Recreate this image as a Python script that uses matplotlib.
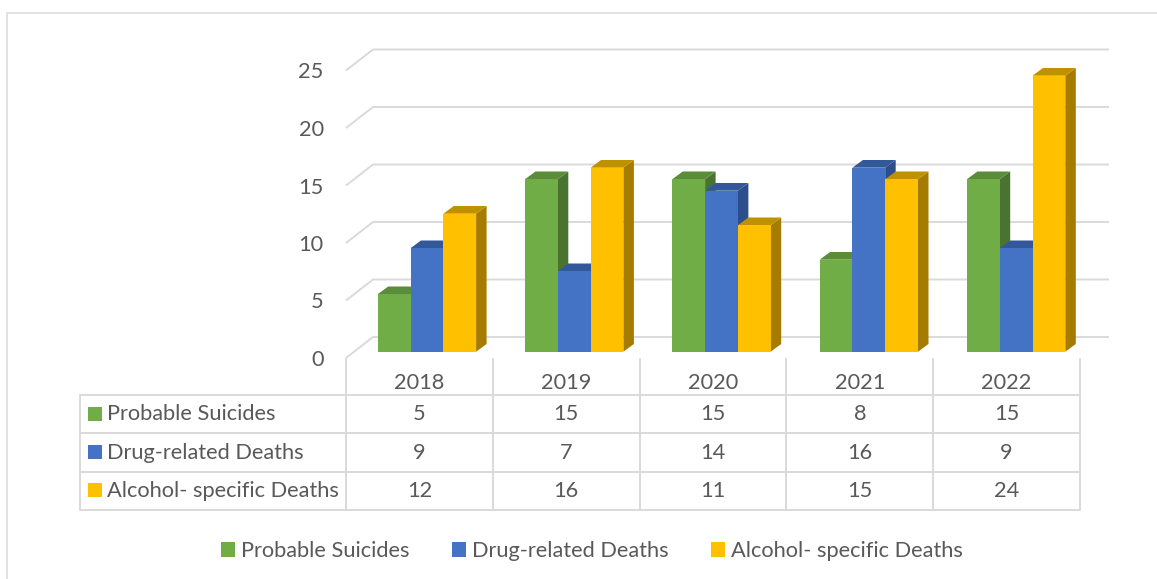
"""Clustered 3D-look column chart with a data table below, Excel style."""
import matplotlib; matplotlib.use("Agg")
import matplotlib.pyplot as plt
from matplotlib.patches import Polygon, Rectangle, Patch
from matplotlib.lines import Line2D
from matplotlib.transforms import Affine2D

years = ["2018", "2019", "2020", "2021", "2022"]
series_names = ["Probable Suicides", "Drug-related Deaths", "Alcohol- specific Deaths"]
suicides = [5, 15, 15, 8, 15]
drugs = [9, 7, 14, 16, 9]
alcohol = [12, 16, 11, 15, 24]
y_ticks = [0, 5, 10, 15, 20, 25]

W, H = 1157, 579
GREY = "#DADADA"
TXT = "#595959"
FS = 15.7
plt.rcParams["font.family"] = ["Lato", "DejaVu Sans"]

front = ["#70AD47", "#4472C4", "#FFC000"]
top = ["#5B8C3A", "#335899", "#BF9000"]
side = ["#4A7230", "#2C4F8C", "#A67C00"]

fig = plt.figure(figsize=(W / 100, H / 100), dpi=100)
# axes: x in categories, y in values
L, R, Y0, Y25 = 346, 1080, 358, 70.5
ax = fig.add_axes([L / W, 1 - Y0 / H, (R - L) / W, (Y0 - Y25) / H])
ax.set_xlim(0, 5); ax.set_ylim(0, 25)
ax.patch.set_visible(False)
for s in ax.spines.values():
    s.set_visible(False)
px_x = 5 / (R - L)
px_y = 25 / (Y0 - Y25)

# outer chart border (pixel coords, y down)
pix = Affine2D().scale(1, -1).translate(0, H)
fig.add_artist(Line2D([7, 7, W], [H, 13, 13], color=GREY, lw=1.1, transform=pix))

# back wall gridlines with the diagonal on the side wall
for v in y_ticks:
    ax.plot([0, 27 * px_x, 763 * px_x], [v, v + 21 * px_y, v + 21 * px_y],
            color=GREY, lw=1.4, clip_on=False, zorder=1, solid_capstyle="butt")

bw = 32.8 * px_x
start = 31.7 * px_x
step = 147.3 / 146.8  # bars run a little wider apart than the table columns
base = 6.3 * px_y
ddx, ddy = 10.5 * px_x, 7.7 * px_y
for i in range(len(years)):
    for j, vals in enumerate([suicides, drugs, alcohol]):
        x0 = i * step + start + j * bw
        x1 = x0 + bw
        # the front baseline sits a bit above the axis zero
        y0, y1 = base, vals[i] + base
        ax.add_patch(Polygon([[x1, y0], [x1 + ddx, y0 + ddy], [x1 + ddx, y1 + ddy], [x1, y1]],
                             fc=side[j], ec="none", clip_on=False, zorder=3))
        ax.add_patch(Polygon([[x0, y1], [x1, y1], [x1 + ddx, y1 + ddy], [x0 + ddx, y1 + ddy]],
                             fc=top[j], ec="none", clip_on=False, zorder=3))
        ax.add_patch(Rectangle((x0, y0), bw, vals[i], fc=front[j], ec="none", clip_on=False, zorder=3))

# axis labels
ax.set_yticks(y_ticks)
ax.set_yticklabels([str(v) for v in y_ticks], fontsize=FS, color=TXT)
ax.tick_params(axis="y", length=0, pad=16)
ax.set_xticks([i + 0.5 for i in range(5)])
ax.set_xticklabels(years, fontsize=FS, color=TXT)
ax.tick_params(axis="x", which="major", length=0, pad=10.5)
ax.set_xticks(range(6), minor=True)
ax.tick_params(axis="x", which="minor", length=27, width=1.4, color=GREY)

# data table
cells = [[series_names[0]] + [str(v) for v in suicides],
         [series_names[1]] + [str(v) for v in drugs],
         [series_names[2]] + [str(v) for v in alcohol]]
tx0 = (80 - L) / (R - L)
tbl = ax.table(cellText=cells, cellLoc="center",
               colWidths=[266 / (R - L)] + [146.8 / (R - L)] * 5,
               bbox=[tx0, -(510 - Y0) / (Y0 - Y25), 1 - tx0, -(395 - 510) / (Y0 - Y25)])
tbl.auto_set_font_size(False)
tbl.set_fontsize(FS)
for (r, c), cell in tbl.get_celld().items():
    cell.set_edgecolor(GREY)
    cell.set_linewidth(1.4)
    cell.set_facecolor("none")
    cell.get_text().set_color(TXT)
    if c == 0:
        cell.get_text().set_ha("left")
        cell.PAD = 0.1
        cell._loc = "left"

# colour keys in the table
for j, yk in enumerate([407, 445, 483]):
    fig.add_artist(Rectangle((88, yk), 14, 14, fc=front[j], ec="none", transform=pix))

handles = [Patch(fc=front[j], ec="none") for j in range(3)]
fig.legend(handles, series_names, ncol=3, frameon=False, fontsize=FS, labelcolor=TXT,
           loc="center", bbox_to_anchor=(592 / W, 1 - 551 / H),
           handlelength=0.64, handleheight=0.64, handletextpad=0.28, columnspacing=1.93)

fig.savefig("out.png", dpi=100)
